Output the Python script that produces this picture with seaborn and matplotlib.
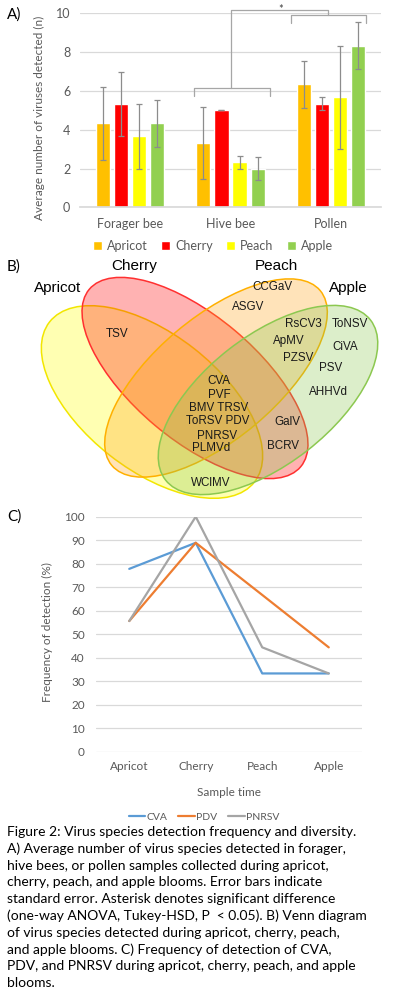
import matplotlib
matplotlib.use("Agg")
import matplotlib.pyplot as plt
from matplotlib.patches import Ellipse
from matplotlib.colors import to_rgba
import seaborn as sns
import pandas as pd

# ---- panel A: average number of viruses detected ----
sources = ["Forager bee", "Hive bee", "Pollen"]
blooms = ["Apricot", "Cherry", "Peach", "Apple"]
apricot_mean = [4.33, 3.33, 6.33]
cherry_mean = [5.33, 5.0, 5.33]
peach_mean = [3.67, 2.33, 5.67]
apple_mean = [4.33, 2.0, 8.33]
apricot_se = [1.87, 1.85, 1.2]
cherry_se = [1.67, 0.0, 0.33]
peach_se = [1.67, 0.33, 2.67]
apple_se = [1.2, 0.57, 1.2]
bloom_colors = ["#FFC000", "#FF0000", "#FFFF00", "#92D050"]

# ---- panel B: venn diagram ----
set_names = ["Apricot", "Cherry", "Peach", "Apple"]
set_fill = ["#FFFF00", "#FF0000", "#FFA31A", "#8CC850"]
set_edge = ["#F2E600", "#FF3030", "#FFB000", "#8CC850"]
virus_labels = ["CCGaV", "ASGV", "RsCV3", "ToNSV", "TSV", "ApMV", "CiVA",
                "PZSV", "PSV", "CVA", "PVF", "BMV TRSV", "ToRSV PDV",
                "PNRSV", "PLMVd", "AHHVd", "GalV", "BCRV", "WClMV"]

# ---- panel C: frequency of detection ----
sample_times = ["Apricot", "Cherry", "Peach", "Apple"]
cva = [77.8, 88.9, 33.3, 33.3]
pdv = [55.6, 88.9, 66.7, 44.4]
pnrsv = [55.6, 100.0, 44.4, 33.3]
virus_names = ["CVA", "PDV", "PNRSV"]
virus_colors = ["#5B9BD5", "#ED7D31", "#A5A5A5"]

caption = [
    "Figure 2: Virus species detection frequency and diversity.",
    "A) Average number of virus species detected in forager,",
    "hive bees, or pollen samples collected during apricot,",
    "cherry, peach, and apple blooms. Error bars indicate",
    "standard error. Asterisk denotes significant difference",
    "(one-way ANOVA, Tukey-HSD, P  < 0.05). B) Venn diagram",
    "of virus species detected during apricot, cherry, peach,",
    "and apple blooms. C) Frequency of detection of CVA,",
    "PDV, and PNRSV during apricot, cherry, peach, and apple",
    "blooms.",
]

sns.set_theme(style="white")
plt.rcParams["font.family"] = ["Lato", "DejaVu Sans"]
grey = "#595959"
gridc = "#D9D9D9"

W, H = 398, 998
fig = plt.figure(figsize=(W / 100, H / 100), dpi=100)


def frac(left, top, right, bottom):
    return [left / W, 1 - bottom / H, (right - left) / W, (bottom - top) / H]


# panel A
ax_a = fig.add_axes(frac(80, 13.3, 381, 207.3))
df_a = pd.DataFrame({
    "source": sources * 4,
    "bloom": [b for b in blooms for _ in sources],
    "mean": apricot_mean + cherry_mean + peach_mean + apple_mean,
})
sns.barplot(data=df_a, x="source", y="mean", hue="bloom", hue_order=blooms,
            palette=bloom_colors, saturation=1, width=0.72, gap=0.22,
            errorbar=None, ax=ax_a)
for cont, ses in zip(ax_a.containers, [apricot_se, cherry_se, peach_se, apple_se]):
    for bar, se in zip(cont, ses):
        xc = bar.get_x() + bar.get_width() / 2
        ax_a.errorbar(xc, bar.get_height(), yerr=se, color="#8C8C8C",
                      capsize=2.5, lw=0.9, capthick=0.9)
ax_a.set_xlim(-0.5, 2.5)
ax_a.set_ylim(0, 10)
ax_a.set_yticks(range(0, 11, 2))
ax_a.yaxis.grid(True, color=gridc, lw=0.9)
ax_a.set_axisbelow(True)
for s in ["left", "right", "top"]:
    ax_a.spines[s].set_visible(False)
ax_a.spines["bottom"].set_color(gridc)
ax_a.tick_params(axis="both", length=0, labelsize=9, labelcolor=grey)
ax_a.tick_params(axis="x", pad=8)
ax_a.tick_params(axis="y", pad=7)
ax_a.set_xlabel("")
ax_a.set_ylabel("Average number of viruses detected (n)", fontsize=8.5, color=grey)
ax_a.yaxis.set_label_coords(-0.116, 0.46)

# significance brackets
bc = "#A6A6A6"
kw = dict(color=bc, lw=0.9, clip_on=False)
ax_a.plot([0.64, 0.64, 1.39, 1.39], [5.75, 6.13, 6.13, 5.75], **kw)
ax_a.plot([1.6, 1.6, 2.35, 2.35], [9.5, 9.92, 9.92, 9.5], **kw)
ax_a.plot([1.0, 1.0, 1.97, 1.97], [6.13, 10.15, 10.15, 9.92], **kw)
ax_a.text(1.5, 10.2, "*", ha="center", va="center", fontsize=8,
          color="#404040", clip_on=False)

handles, labels = ax_a.get_legend_handles_labels()
ax_a.get_legend().remove()
fig.legend(handles, labels, loc="center", bbox_to_anchor=(213 / W, 1 - 245.7 / H),
           ncol=4, frameon=False, handlelength=0.7, handleheight=0.7,
           handletextpad=0.4, columnspacing=1.1, fontsize=9, labelcolor=grey)

# panel C
ax_c = fig.add_axes(frac(96, 516.7, 362, 751.7))
df_c = pd.DataFrame({
    "time": sample_times * 3,
    "freq": cva + pdv + pnrsv,
    "virus": [v for v in virus_names for _ in sample_times],
})
sns.lineplot(data=df_c, x="time", y="freq", hue="virus", palette=virus_colors,
             sort=False, lw=1.6, ax=ax_c)
ax_c.set_xlim(-0.5, 3.5)
ax_c.set_ylim(0, 100)
ax_c.set_yticks(range(0, 101, 10))
ax_c.yaxis.grid(True, color=gridc, lw=0.9)
ax_c.set_axisbelow(True)
for s in ["left", "right", "top", "bottom"]:
    ax_c.spines[s].set_visible(False)
ax_c.tick_params(axis="both", length=0, labelsize=8.5, labelcolor=grey)
ax_c.tick_params(axis="x", pad=7)
ax_c.tick_params(axis="y", pad=8)
ax_c.set_xlabel("Sample time", fontsize=8.5, color=grey)
ax_c.xaxis.set_label_coords(0.5, -0.15)
ax_c.set_ylabel("Frequency of detection (%)", fontsize=8.5, color=grey)
ax_c.yaxis.set_label_coords(-0.162, 0.51)
handles, labels = ax_c.get_legend_handles_labels()
ax_c.get_legend().remove()
fig.legend(handles, labels, loc="center", bbox_to_anchor=(204 / W, 1 - 817 / H),
           ncol=3, frameon=False, handlelength=1.6, handletextpad=0.15,
           columnspacing=1.0, fontsize=7.5, labelcolor=grey)

# overlay axes in pixel coordinates: venn, panel letters, caption
ov = fig.add_axes([0, 0, 1, 1])
ov.set_xlim(0, W)
ov.set_ylim(H, 0)
ov.axis("off")
ov.patch.set_alpha(0)

ellipses = [(152, 402, 260, 136, 38), (195, 378, 276, 124, 40),
            (216, 378, 272, 122, -40), (268, 400, 260, 128, -38)]
for (cx, cy, w, h, ang), fc, ec in zip(ellipses, set_fill, set_edge):
    ov.add_patch(Ellipse((cx, cy), w, h, angle=ang, facecolor=to_rgba(fc, 0.3),
                         edgecolor=ec, lw=1.1))

name_pos = [(58, 288), (134, 266), (276, 266), (348, 288)]
for name, (x, y) in zip(set_names, name_pos):
    ov.text(x, y, name, ha="center", va="center", fontsize=11,
            family="Liberation Sans", color="black")

label_pos = [(272, 287), (248, 307), (303, 324), (350, 324), (117, 334),
             (289, 341), (345, 347), (298, 358), (331, 368), (219, 381),
             (219, 395), (219, 408), (218, 421), (217, 436), (211, 448),
             (328, 392), (287, 422), (283, 446), (211, 483)]
for lab, (x, y) in zip(virus_labels, label_pos):
    ov.text(x, y, lab, ha="center", va="center", fontsize=8.4,
            family="Liberation Sans", color="#1A1A1A")

for letter, y in [("A)", 15), ("B)", 267), ("C)", 517)]:
    ov.text(7, y, letter, ha="left", va="center", fontsize=11, color="black")

for i, line in enumerate(caption):
    ov.text(7, 832 + i * 16.8, line, ha="left", va="center", fontsize=10.0,
            color="black")

fig.savefig("out.png", dpi=100)
